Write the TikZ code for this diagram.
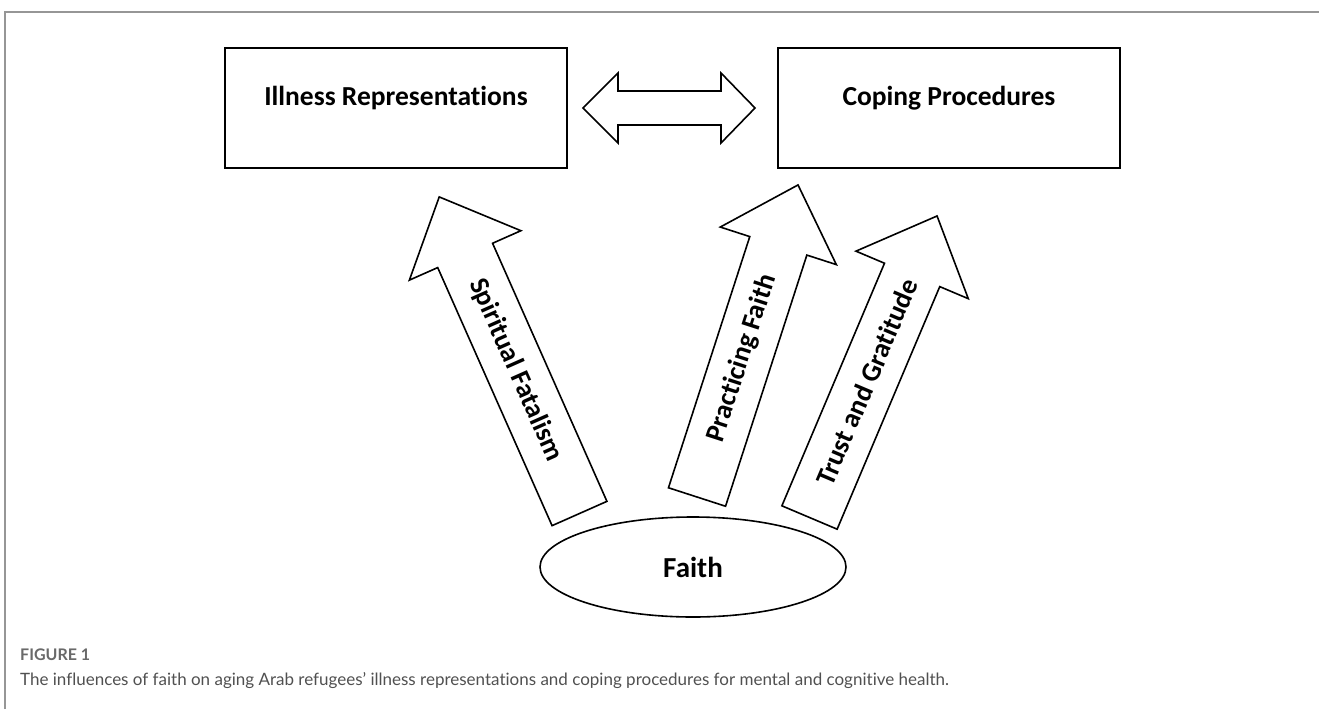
\documentclass[tikz,border=0pt]{standalone}
\usepackage{fontspec}
\setmainfont{Carlito}[RawFeature={-liga;-clig;-calt;-dlig}]
\newfontfamily\capfont{Lato}[RawFeature={-liga;-clig;-calt;-dlig}]
\usetikzlibrary{shapes.geometric}
\definecolor{framegray}{RGB}{150,150,150}
\definecolor{capgray}{RGB}{80,80,80}
\definecolor{figgray}{RGB}{105,105,105}
\tikzset{
  box/.style={draw=black, line width=1.6pt, minimum width=342pt, minimum height=120pt, inner sep=0pt},
  lbl/.style={font=\fontsize{27.5}{33}\selectfont\bfseries, inner sep=0pt},
  blk/.style={draw=black, line width=1.6pt, line join=miter, fill=white},
  framel/.style={draw=framegray, line width=1.5pt},
  ell/.style={draw=black, ellipse, line width=1.6pt, minimum width=306pt, minimum height=100pt, inner sep=0pt},
}
% #1 name, #2 x, #3 y, #4 angle, #5 length, #6 text position, #7 text rotation, #8 text
\newcommand\blockarrow[8]{%
  \begin{scope}[shift={(#2,#3)}, rotate=#4]
    \draw[blk] (0,-30) -- (#5-64,-30) -- (#5-64,-61) -- (#5,0) -- (#5-64,61) -- (#5-64,30) -- (0,30) -- cycle;
    \node[lbl, rotate=#7] (#1) at (#6,0) {#8};
  \end{scope}}
\begin{document}
\begin{tikzpicture}[x=1pt,y=-1pt]
  \useasboundingbox (0,0) rectangle (1319,709);
  \draw[framel] (5,709) -- (5,12) -- (1319,12);

  \node[box] (ir) at (396,108) {};
  \node[lbl] (irl) at (396,98) {Illness Representations};
  \node[box] (cp) at (949,108) {};
  \node[lbl] (cpl) at (949,98) {Coping Procedures};

  \draw[blk] (583,108) -- (618,73) -- (618,91) -- (721,91) -- (721,73) -- (755,108)
     -- (721,143) -- (721,125) -- (618,125) -- (618,143) -- cycle;

  \blockarrow{sf}{579.5}{513.5}{113.9}{346.3}{157}{-66.1}{Spiritual Fatalism}
  \blockarrow{pf}{697}{497}{72.06}{328}{146}{72.06}{Practicing Faith}
  \blockarrow{tg}{809.5}{517.5}{67.07}{327.4}{147}{67.07}{Trust and Gratitude}

  \node[ell, font=\fontsize{29}{34}\selectfont\bfseries] (faith) at (693,567) {Faith};

  \node[anchor=west, inner sep=0pt, text=figgray, font=\capfont\fontsize{16}{18}\selectfont\bfseries] (fig) at (20,655) {FIGURE 1};
  \node[anchor=west, inner sep=0pt, text=capgray, font=\capfont\fontsize{17}{20}\selectfont] (cap) at (20,681) {The influences of faith on aging Arab refugees’ illness representations and coping procedures for mental and cognitive health.};
\end{tikzpicture}
\end{document}
